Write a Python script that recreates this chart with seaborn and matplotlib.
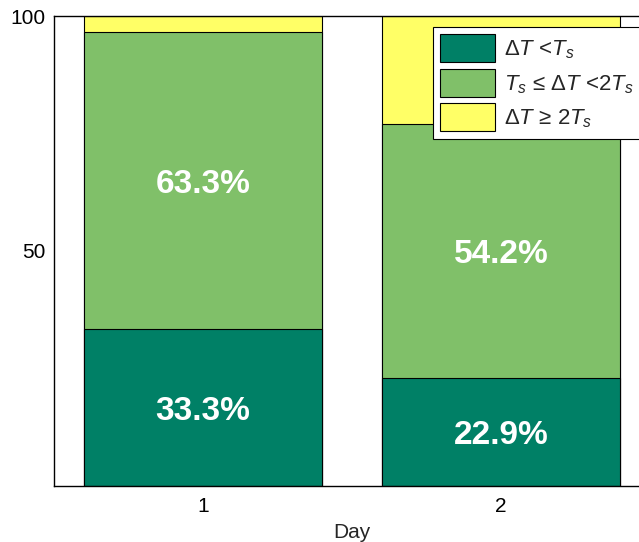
import matplotlib
matplotlib.use("Agg")
import matplotlib.pyplot as plt
import seaborn as sns
import pandas as pd
import numpy as np
from matplotlib.patches import Patch

days = [1, 2]
below_ts = [33.3, 22.9]
ts_to_2ts = [63.3, 54.2]
above_2ts = [3.4, 22.9]
labels = [r'$\Delta T$ <$T_s$', r'$T_s$ ≤ $\Delta T$ <2$T_s$', r'$\Delta T$ ≥ 2$T_s$']
colors = ['#008066', '#80C069', '#FFFF66']

sns.set_style("white")
plt.rcParams['font.family'] = ['Liberation Sans', 'DejaVu Sans']
plt.rcParams['mathtext.fontset'] = 'custom'
plt.rcParams['mathtext.rm'] = 'Liberation Sans'
plt.rcParams['mathtext.it'] = 'Liberation Sans:italic'

fig = plt.figure(figsize=(6.39, 5.42), dpi=100)
W, H = 639, 542
ax = fig.add_axes([54 / W, (H - 486) / H, 596 / W, 470 / H])

df = pd.DataFrame({'Day': days, 'a': below_ts, 'b': ts_to_2ts, 'c': above_2ts})
df['top'] = df['a'] + df['b'] + df['c']
df['mid'] = df['a'] + df['b']

for col, colr in [('top', colors[2]), ('mid', colors[1]), ('a', colors[0])]:
    sns.barplot(data=df, x='Day', y=col, native_scale=True, width=0.8,
                color=colr, saturation=1, edgecolor='black', linewidth=0.8, ax=ax)

for i, d in enumerate(days):
    ax.text(d, below_ts[i] / 2, f'{below_ts[i]:.1f}%', ha='center', va='center_baseline',
            color='white', fontsize=24, fontweight='bold')
    ax.text(d, below_ts[i] + ts_to_2ts[i] / 2, f'{ts_to_2ts[i]:.1f}%', ha='center',
            va='center_baseline', color='white', fontsize=24, fontweight='bold')

ax.set_xlim(0.5, 2.5)
ax.set_ylim(0, 100)
ax.set_xticks(days)
ax.set_xticklabels([str(d) for d in days])
ax.set_yticks([50, 100])
ax.tick_params(direction='in', length=4, width=0.8, labelsize=15, colors='black')
ax.tick_params(axis='x', pad=8)
ax.tick_params(axis='y', pad=6)
ax.set_xlabel('Day', fontsize=15, labelpad=5)
ax.set_ylabel('')
for s in ax.spines.values():
    s.set_color('black')
    s.set_linewidth(1.0)

handles = [Patch(facecolor=c, edgecolor='black', linewidth=0.8) for c in colors]
leg = fig.legend(handles, labels, loc='upper left', bbox_to_anchor=(433 / W, 1 - 27 / H),
                 fontsize=16, frameon=True, fancybox=False, edgecolor='black', framealpha=1,
                 handlelength=2.45, handleheight=1.55, borderpad=0.33, labelspacing=0.3,
                 handletextpad=0.42, borderaxespad=0)
leg.get_frame().set_linewidth(0.8)

fig.savefig('out.png', dpi=100)
